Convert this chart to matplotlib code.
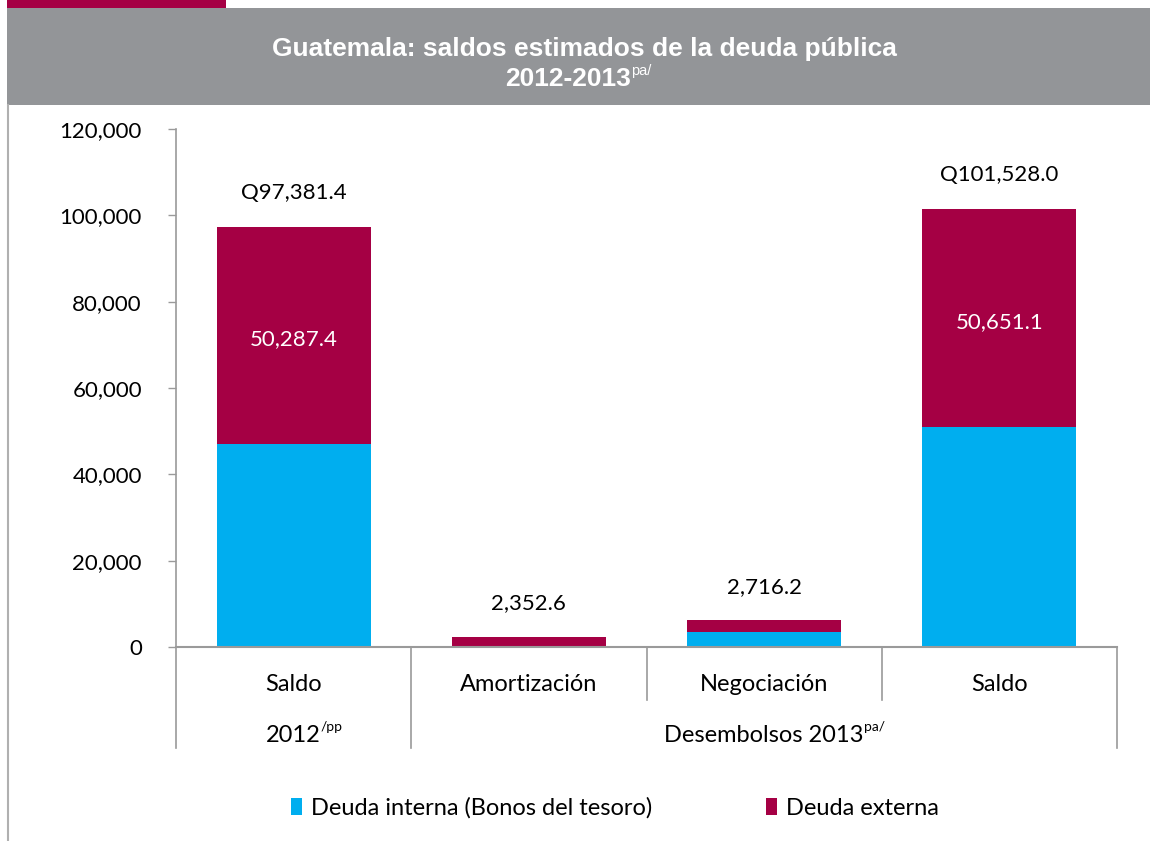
import matplotlib
matplotlib.use("Agg")
import matplotlib.pyplot as plt
from matplotlib.patches import Rectangle, Patch
from matplotlib.text import Annotation
import matplotlib.transforms as mtransforms

plt.rcParams['font.family'] = ['Lato', 'DejaVu Sans']

# ---- data ----
categories = ["Saldo", "Amortización", "Negociación", "Saldo"]
interna = [47094.0, 0.0, 3500.0, 50876.9]
externa = [50287.4, 2352.6, 2716.2, 50651.1]
top_labels = ["Q97,381.4", "2,352.6", "2,716.2", "Q101,528.0"]
inner_labels = ["50,287.4", "", "", "50,651.1"]
yticks = [0, 20000, 40000, 60000, 80000, 100000, 120000]
ytick_labels = ["0", "20,000", "40,000", "60,000", "80,000", "100,000", "120,000"]
group_names = ["2012", "Desembolsos 2013"]
group_sups = ["/pp", "pa/"]
group_spans = [(0, 0), (1, 3)]
legend_labels = ["Deuda interna (Bonos del tesoro)", "Deuda externa"]
title_line1 = "Guatemala: saldos estimados de la deuda pública"
title_line2 = "2012-2013"
title_sup = "pa/"

BLUE = "#00AEEF"
RED = "#A50044"
GRAY = "#939598"
AX_GRAY = "#9a9a9a"
NUM_FS = 16
WORD_FS = 17
TITLE_FAMILY = ['Liberation Sans', 'DejaVu Sans']

W, H = 1150, 841
fig = plt.figure(figsize=(W / 100, H / 100), dpi=100)

# header decorations
fig.patches.append(Rectangle((7 / W, 1 - 105 / H), 1 - 7 / W, 97 / H,
                             transform=fig.transFigure, facecolor=GRAY, edgecolor='none', zorder=0))
fig.patches.append(Rectangle((7 / W, 1 - 8 / H), (226 - 7) / W, 8 / H,
                             transform=fig.transFigure, facecolor=RED, edgecolor='none', zorder=0))
fig.lines.append(plt.Line2D([8 / W, 8 / W], [0, 1 - 105 / H], transform=fig.transFigure,
                            color="#b0b0b0", lw=1.5))

fig.text(584 / W, 1 - 49 / H, title_line1, ha='center', va='center', color='white',
         fontsize=19, fontweight='bold', family=TITLE_FAMILY)
t2 = fig.text(568 / W, 1 - 79 / H, title_line2, ha='center', va='center', color='white',
              fontsize=19, fontweight='bold', family=TITLE_FAMILY)
sup_ann = Annotation(title_sup, xy=(1.0, 0.55), xycoords=t2, ha='left', va='bottom',
                     color='white', fontsize=10.5, family=TITLE_FAMILY, annotation_clip=False)
fig.add_artist(sup_ann)

# axes
left, right = 176 / W, 1117 / W
bottom, top = 1 - 647 / H, 1 - 129 / H
ax = fig.add_axes([left, bottom, right - left, top - bottom])

x = list(range(len(categories)))
bw = 0.655
ax.bar(x, interna, width=bw, color=BLUE, zorder=2)
ax.bar(x, externa, width=bw, bottom=interna, color=RED, zorder=2)

ax.set_xlim(-0.5, len(categories) - 0.5)
ax.set_ylim(0, 120000)
ax.set_yticks(yticks)
ax.set_yticklabels(ytick_labels)
ax.tick_params(axis='y', length=5.5, width=1, color=AX_GRAY, pad=19, labelsize=NUM_FS)
ax.set_xticks([])
for s in ['top', 'right']:
    ax.spines[s].set_visible(False)
ax.spines['left'].set_color(AX_GRAY)
ax.spines['bottom'].set_color(AX_GRAY)
ax.spines['left'].set_linewidth(1.2)
ax.spines['bottom'].set_linewidth(1.5)

for i in x:
    tot = interna[i] + externa[i]
    ax.annotate(top_labels[i], xy=(i, tot), xytext=(0, 24), textcoords='offset points',
                ha='center', va='center', fontsize=NUM_FS)
    if inner_labels[i]:
        ax.annotate(inner_labels[i], xy=(i, interna[i] + externa[i] / 2), xytext=(0, -3),
                    textcoords='offset points', ha='center', va='center',
                    color='white', fontsize=NUM_FS)

trans = mtransforms.blended_transform_factory(ax.transData, ax.transAxes)
# category labels
for i, c in enumerate(categories):
    ax.text(i, -0.073, c, transform=trans, ha='center', va='center', fontsize=WORD_FS)

# separators
group_bounds = set()
for a, b in group_spans:
    group_bounds.add(a - 0.5)
    group_bounds.add(b + 0.5)
for k in range(len(categories) + 1):
    xb = k - 0.5
    y_end = -0.195 if xb in group_bounds else -0.102
    ax.plot([xb, xb], [0, y_end], transform=trans, color=AX_GRAY, lw=1.2, clip_on=False)

# group labels
for name, sup, (a, b) in zip(group_names, group_sups, group_spans):
    tt = ax.text((a + b) / 2, -0.17, name, transform=trans, ha='center', va='center',
                 fontsize=WORD_FS)
    ax.annotate(sup, xy=(1.0, 0.6), xycoords=tt, ha='left', va='bottom', fontsize=10,
                annotation_clip=False)

# legend
handles = [Patch(facecolor=BLUE, edgecolor='none'), Patch(facecolor=RED, edgecolor='none')]
fig.legend(handles, legend_labels, loc='center', bbox_to_anchor=(615 / W, 1 - 808 / H),
           ncol=2, frameon=False, fontsize=WORD_FS, handlelength=0.47, handleheight=0.72,
           handletextpad=0.4, columnspacing=4.8)

fig.savefig("out.png", dpi=100)
